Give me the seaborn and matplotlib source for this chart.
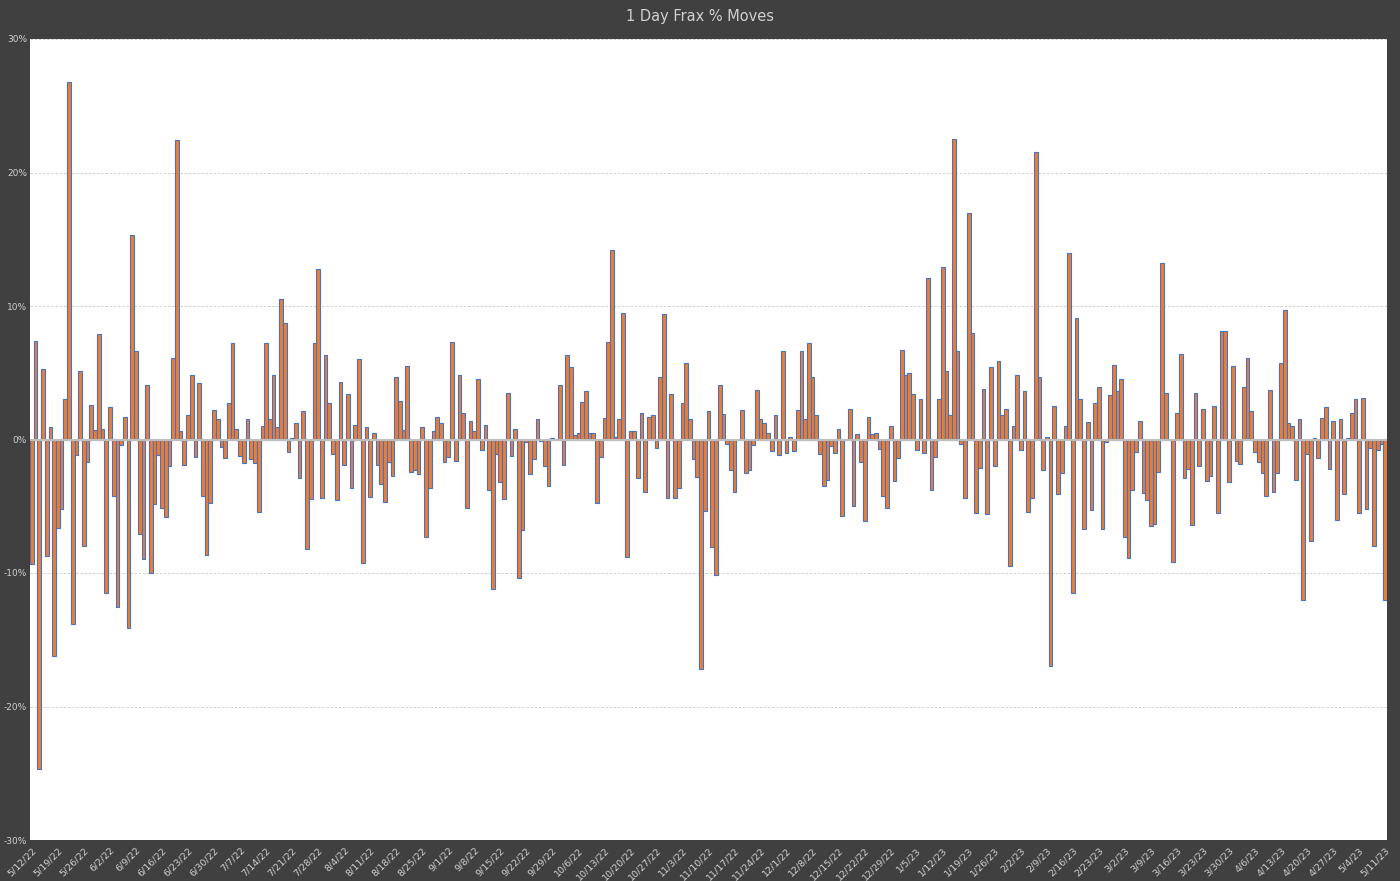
import pandas as pd
import matplotlib.pyplot as plt
import seaborn as sns
from matplotlib.ticker import FuncFormatter

# daily % move, 5/12/22 .. 5/11/23
moves = [
    -9.3, 7.4, -24.7, 5.3, -8.75, 0.9, -16.2, -6.6, -5.2, 3.0,
    26.8, -13.8, -1.15, 5.1, -8.0, -1.7, 2.6, 0.7, 7.9, 0.8,
    -11.5, 2.4, -4.2, -12.55, -0.4, 1.7, -14.1, 15.3, 6.6, -7.1,
    -8.95, 4.1, -10.0, -4.8, -1.15, -5.15, -5.8, -2.0, 6.1, 22.4,
    0.65, -1.9, 1.8, 4.8, -1.3, 4.2, -4.2, -8.65, -4.75, 2.2,
    1.55, -0.55, -1.4, 2.7, 7.2, 0.8, -1.2, -1.75, 1.55, -1.45,
    -1.75, -5.4, 1.0, 7.25, 1.55, 4.85, 0.9, 10.5, 8.7, -0.9,
    0.1, 1.25, -2.9, 2.1, -8.2, -4.45, 7.2, 12.8, -4.4, 6.3,
    2.75, -1.1, -4.5, 4.3, -1.9, 3.4, -3.6, 1.1, 6.05, -9.25,
    0.9, -4.3, 0.45, -1.9, -3.3, -4.7, -1.7, -2.7, 4.7, 2.9,
    0.7, 5.5, -2.4, -2.3, -2.6, 0.9, -7.3, -3.6, 0.6, 1.7,
    1.25, -1.7, -1.3, 7.3, -1.6, 4.85, 2.0, -5.1, 1.4, 0.65,
    4.5, -0.8, 1.1, -3.8, -11.2, -1.1, -3.2, -4.45, 3.5, -1.2,
    0.8, -10.4, -6.8, -0.2, -2.6, -1.45, 1.55, -0.1, -2.0, -3.5,
    0.1, 0.05, 4.1, -1.9, 6.3, 5.45, 0.3, 0.45, 2.8, 3.6,
    0.45, 0.5, -4.75, -1.3, 1.6, 7.3, 14.2, 0.2, 1.55, 9.5,
    -8.8, 0.65, 0.65, -2.9, 2.0, -3.9, 1.7, 1.85, -0.6, 4.7,
    9.4, -4.4, 3.4, -4.4, -3.6, 2.75, 5.7, 1.5, -1.45, -2.8,
    -17.2, -5.35, 2.15, -8.05, -10.15, 4.1, 1.9, -0.3, -2.3, -3.9,
    0.05, 2.2, -2.5, -2.3, -0.4, 3.7, 1.55, 1.2, 0.45, -0.85,
    1.85, -1.15, 6.6, -1.0, 0.2, -0.85, 2.2, 6.65, 1.5, 7.25,
    4.7, 1.8, -1.1, -3.5, -3.0, -0.5, -1.0, 0.8, -5.7, 0.0,
    2.3, -5.0, 0.4, -1.7, -6.1, 1.7, 0.4, 0.5, -0.7, -4.2,
    -5.1, 1.0, -3.1, -1.4, 6.7, 4.8, 5.0, 3.4, -0.8, 3.0,
    -1.0, 12.1, -3.8, -1.3, 3.0, 12.9, 5.1, 1.8, 22.5, 6.6,
    -0.3, -4.4, 17.0, 8.0, -5.5, -2.1, 3.8, -5.6, 5.4, -2.0,
    5.9, 1.8, 2.3, -9.5, 1.0, 4.8, -0.8, 3.6, -5.4, -4.4,
    21.5, 4.7, -2.3, 0.2, -17.0, 2.5, -4.1, -2.5, 1.0, 14.0,
    -11.5, 9.1, 3.0, -6.7, 1.3, -5.3, 2.7, 3.9, -6.7, -0.2,
    3.3, 5.6, 3.6, 4.5, -7.3, -8.9, -3.8, -0.9, 1.4, -4.0,
    -4.5, -6.5, -6.3, -2.4, 13.2, 3.5, 0.0, -9.2, 2.0, 6.4,
    -2.9, -2.2, -6.4, 3.5, -2.0, 2.3, -3.1, -2.7, 2.5, -5.5,
    8.1, 8.1, -3.2, 5.5, -1.6, -1.8, 3.9, 6.1, 2.1, -0.9,
    -1.7, -2.5, -4.2, 3.7, -3.9, -2.5, 5.7, 9.7, 1.2, 1.0,
    -3.0, 1.5, -12.0, -1.1, -7.6, 0.1, -1.4, 1.6, 2.4, -2.2,
    1.4, -6.0, 1.5, -4.1, 0.1, 2.0, 3.0, -5.5, 3.1, -5.2,
    -0.6, -8.0, -0.8, -0.3, -12.0,
]

start_date = "2022-05-12"
title = "1 Day Frax % Moves"

dates = pd.date_range(start_date, periods=len(moves), freq="D")
df = pd.DataFrame({"day": range(len(moves)), "move": moves})

bg = "#404040"
text_color = "#d0d0d0"

fig = plt.figure(figsize=(14, 8.81), dpi=100, facecolor=bg)
ax = fig.add_axes([30 / 1400, 41 / 881, 1357 / 1400, 801 / 881])
ax.set_facecolor("white")

sns.barplot(
    data=df, x="day", y="move", ax=ax,
    color="#ED7D31", edgecolor="#4472C4", linewidth=0.8,
    width=1.0, saturation=1, zorder=3,
)

ax.set_xlim(-0.5, len(moves) - 0.5)
ax.set_ylim(-30, 30)
ax.set_yticks(range(-30, 31, 10))
ax.yaxis.set_major_formatter(FuncFormatter(lambda v, _: "{:.0f}%".format(v)))
ax.grid(axis="y", color="#c8c8c8", linestyle=(0, (3, 2)), linewidth=0.6, zorder=0)
ax.axhline(0, color="#bfbfbf", linewidth=1.5, zorder=4)

tick_pos = list(range(0, len(moves), 7))
ax.set_xticks(tick_pos)
ax.set_xticklabels(
    ["{}/{}/{}".format(d.month, d.day, d.strftime("%y")) for d in dates[tick_pos]],
    rotation=45, ha="right", rotation_mode="anchor",
)
ax.tick_params(axis="x", colors=text_color, labelsize=6.8, length=0, pad=4)
ax.tick_params(axis="y", colors=text_color, labelsize=6.5, length=0, pad=2)

for s in ax.spines.values():
    s.set_visible(False)
ax.set_xlabel("")
ax.set_ylabel("")

fig.text(0.5, 1 - 16 / 881, title, ha="center", va="center",
         color=text_color, fontsize=10.5)

plt.savefig("out.png", dpi=100, facecolor=bg)
